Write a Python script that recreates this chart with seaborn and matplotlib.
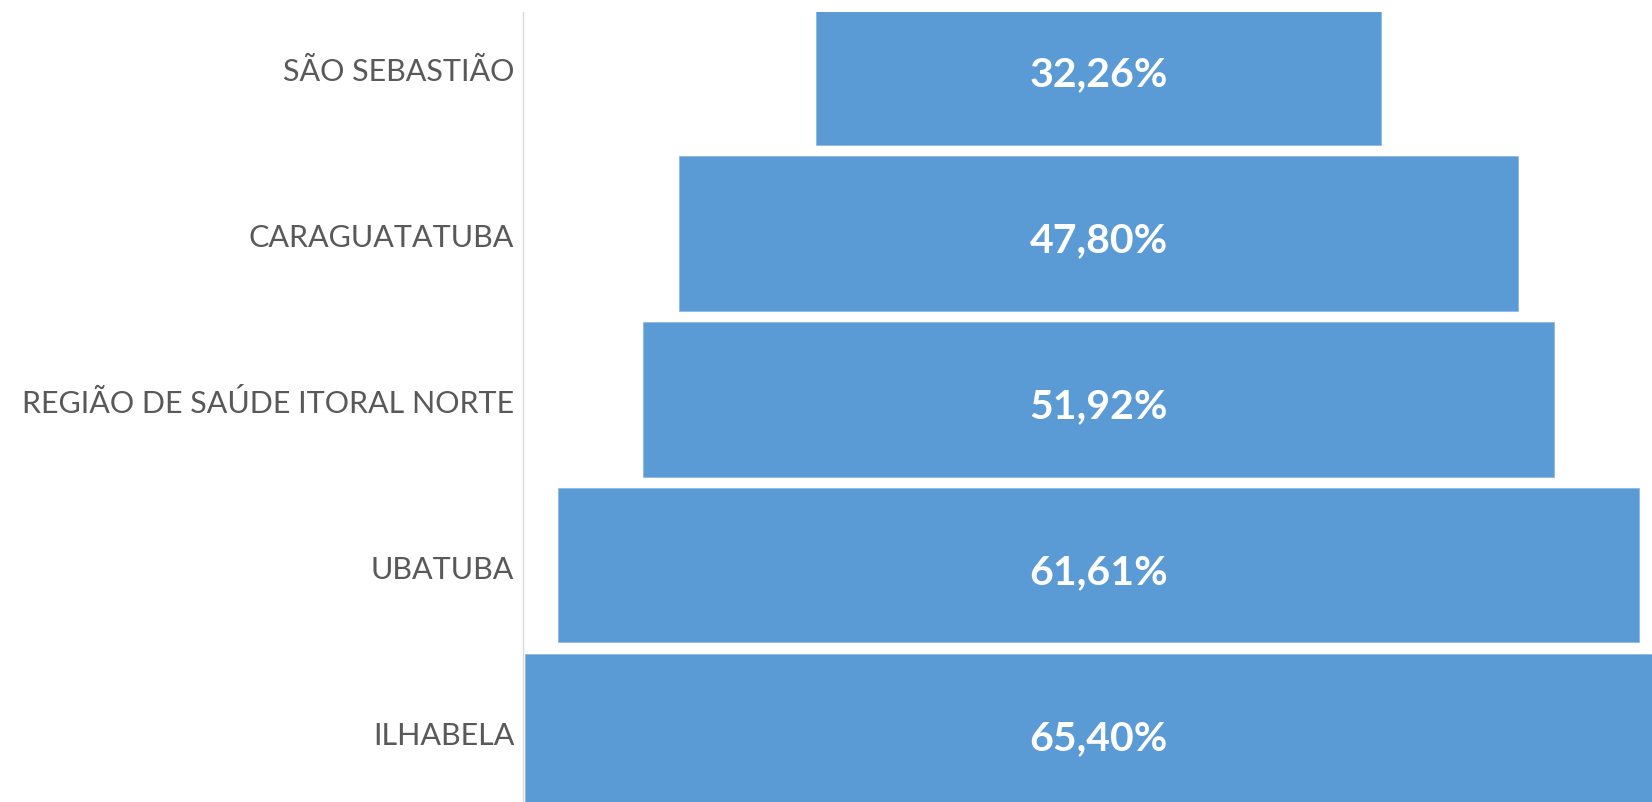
import matplotlib
matplotlib.use("Agg")
import matplotlib.pyplot as plt
from matplotlib.transforms import ScaledTranslation
import seaborn as sns
import pandas as pd

categories = ["SÃO SEBASTIÃO", "CARAGUATATUBA", "REGIÃO DE SAÚDE ITORAL NORTE", "UBATUBA", "ILHABELA"]
values = [32.26, 47.80, 51.92, 61.61, 65.40]
value_labels = ["32,26%", "47,80%", "51,92%", "61,61%", "65,40%"]

sns.set_theme(style="white")
plt.rcParams["font.family"] = ["Lato", "DejaVu Sans"]

df = pd.DataFrame({"cat": categories, "val": values})

W, H, DPI = 1652, 803, 100
fig = plt.figure(figsize=(W / DPI, H / DPI), dpi=DPI)
ax_left = 522.6 / W
ax_top = 12.6 / H
ax = fig.add_axes([ax_left, 0.0, 1.0 - ax_left, 1.0 - ax_top])

sns.barplot(data=df, x="val", y="cat", order=categories, color="#5B9BD5",
            saturation=1, width=0.93, orient="h", ax=ax,
            edgecolor="#8DB8E2", linewidth=0.6)

# center each bar to form the funnel
for patch, v in zip(ax.patches, values):
    patch.set_x(-v / 2)

val_offset = ScaledTranslation(0, -17.7 / DPI, fig.dpi_scale_trans)
for i, (v, lab) in enumerate(zip(values, value_labels)):
    ax.text(0, i, lab, ha="center", va="baseline", color="white",
            fontsize=29.5, fontweight="bold",
            transform=ax.transData + val_offset)

ax.set_xlim(-32.83, 31.56)
ax.set_ylim(4.427, -0.338)
ax.set_xlabel("")
ax.set_ylabel("")
ax.set_xticks([])
ax.tick_params(axis="y", length=0, pad=6, labelsize=22, labelcolor="#595959")
lab_offset = ScaledTranslation(0, -12.5 / DPI, fig.dpi_scale_trans)
for lbl in ax.get_yticklabels():
    lbl.set_va("baseline")
    lbl.set_transform(lbl.get_transform() + lab_offset)
for s in ["top", "right", "bottom"]:
    ax.spines[s].set_visible(False)
ax.spines["left"].set_color("#D9D9D9")
ax.spines["left"].set_linewidth(1)
ax.set_zorder(1)

fig.savefig("out.png", dpi=DPI)
